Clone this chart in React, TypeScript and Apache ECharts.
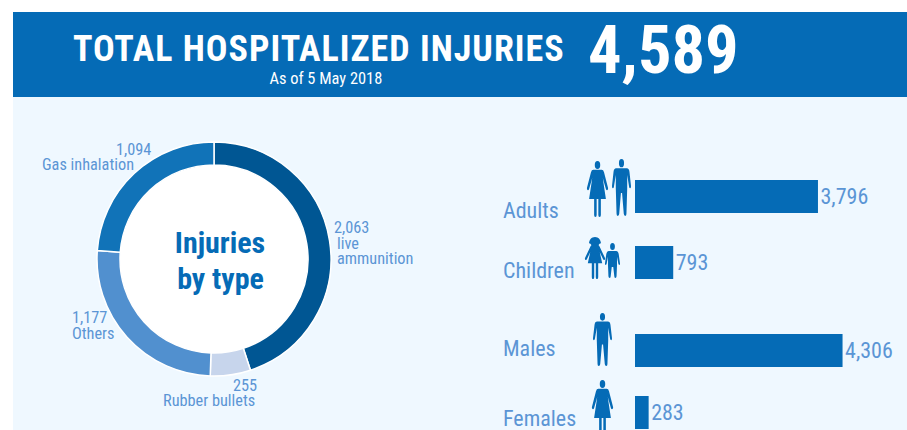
import React, { useEffect, useRef } from "react";
import * as echarts from "echarts";

const injuryTypes = ["live\nammunition", "Rubber bullets", "Others", "Gas inhalation"];
const injuryValues = [2063, 255, 1177, 1094];
const injuryColors = ["#005693", "#C7D5EC", "#5190CF", "#1173B8"];
const groups = ["Adults", "Children", "Males", "Females"];
const groupValues = [3796, 793, 4306, 283];
const headerTitle = "TOTAL HOSPITALIZED INJURIES";
const headerSub = "As of 5 May 2018";
const headerTotal = "4,589";

const barTops = [180, 246, 334, 396];
const labelShift = [14, 8, -2.5, 5.5];
const pieLabelPos: [number, number][] = [[334, 243], [163, 393], [72, 325.5], [42, 157]];
const FONT = '"Roboto Condensed", "Liberation Sans Narrow", Roboto, sans-serif';
const BLUE = "#056BB6";
const LABEL = "#5B95D5";
const PL = { fontSize: 16.3, lineHeight: 15.5, fontFamily: FONT, color: LABEL };

const manD = "M50 0a13.5 13.5 0 1 1 0 27a13.5 13.5 0 1 1 0-27zM22 30H78Q90 30 92 42L100 88Q101 94 96 95Q91 95 90 90L80 52V96L76 178Q76 185 70 185Q63 185 62 178L53 110H47L38 178Q37 185 30 185Q24 185 24 178L20 96V52L10 90Q9 95 4 95Q-1 94 0 88L8 42Q10 30 22 30z";
const womanD = "M50 0a13 13 0 1 1 0 26a13 13 0 1 1 0-26zM30 29H70Q78 29 81 37L100 88Q102 94 97 96Q92 97 90 92L75 56L90 125H66V178Q66 185 60 185Q54 185 54 178V125H46V178Q46 185 40 185Q34 185 34 178V125H10L25 56L10 92Q8 97 3 96Q-2 94 0 88L19 37Q22 29 30 29z";
const girlD = "M50 0C68 0 78 12 80 26C72 28 70 30 68 34Q72 36 74 42L100 88Q102 94 97 96Q92 97 90 92L74 64L86 110H66V168Q66 176 60 176Q54 176 54 168V110H46V168Q46 176 40 176Q34 176 34 168V110H14L26 64L10 92Q8 97 3 96Q-2 94 0 88L26 42Q28 36 32 34C30 30 28 28 20 26C22 12 32 0 50 0z";
const boyD = "M50 0a16 16 0 1 1 0 32a16 16 0 1 1 0-32zM24 36H76Q88 36 91 48L100 92Q101 98 96 99Q91 100 89 94L80 62V100L77 150Q76 158 69 158Q62 158 62 150L55 108H45L38 150Q38 158 31 158Q24 158 23 150L20 100V62L11 94Q9 100 4 99Q-1 98 0 92L9 48Q12 36 24 36z";

echarts.graphic.registerShape("iconMan", echarts.graphic.extendPath(manD, {}) as any);
echarts.graphic.registerShape("iconWoman", echarts.graphic.extendPath(womanD, {}) as any);
echarts.graphic.registerShape("iconGirl", echarts.graphic.extendPath(girlD, {}) as any);
echarts.graphic.registerShape("iconBoy", echarts.graphic.extendPath(boyD, {}) as any);

const icon = (type: string, x: number, y: number, w: number, h: number, natH: number) => ({
  type, x, y, scaleX: w / 100, scaleY: h / natH, z: 5, style: { fill: BLUE },
});
const fmt = (v: number) => v.toLocaleString("en-US");

export default function App() {
  const ref = useRef<HTMLDivElement>(null);
  useEffect(() => {
    document.body.style.margin = "0";
    const style = document.createElement("style");
    style.textContent = 'svg text{font-stretch:75% !important;} svg text[style*="36px"]{letter-spacing:1px;}';
    document.head.appendChild(style);
    const chart = echarts.init(ref.current!, undefined, { renderer: "svg" });
    chart.setOption({
      animation: false,
      backgroundColor: "#fff",
      grid: groups.map((_, i) => ({ left: 635, top: barTops[i], width: 241, height: 33 })),
      xAxis: groups.map((_, i) => ({ type: "value", gridIndex: i, min: 0, max: 5000, show: false })),
      yAxis: groups.map((g, i) => ({
        type: "category", gridIndex: i, data: [g],
        axisLine: { show: false }, axisTick: { show: false },
        axisLabel: {
          align: "left", margin: 132, color: LABEL, fontSize: 22, fontFamily: FONT,
          verticalAlign: labelShift[i] >= 0 ? "top" : "bottom",
          lineHeight: Math.abs(labelShift[i]) * 2,
        },
      })),
      series: [
        {
          type: "pie", center: [214, 259], radius: [94, 117], startAngle: 90, clockwise: true,
          itemStyle: { borderColor: "#fff", borderWidth: 1.5 },
          data: injuryTypes.map((n, i) => ({ name: n, value: injuryValues[i], itemStyle: { color: injuryColors[i] } })),
          label: {
            show: true, position: "outside", color: LABEL, fontSize: 16.3, lineHeight: 15.5, fontFamily: FONT, align: "left", overflow: "none",
            formatter: (p: any) => {
              const lines = String(p.name).split("\n");
              const v = `{v${p.dataIndex}|${fmt(p.value)}}`;
              return [v, ...lines.map((l) => `{n${p.dataIndex}|${l}}`)].join("\n");
            },
            rich: {
              v0: PL,
              n0: { ...PL, padding: [0, 0, 0, 3] },
              v1: { ...PL, padding: [0, 0, 0, 70] },
              n1: PL,
              v2: PL,
              n2: PL,
              v3: { ...PL, padding: [0, 0, 0, 74] },
              n3: PL,
            },
          },
          labelLine: { show: false },
          labelLayout: (p: any) => ({ x: pieLabelPos[p.dataIndex][0], y: pieLabelPos[p.dataIndex][1], align: "left", verticalAlign: "middle" }),
        },
        ...groups.map((g, i) => ({
          type: "bar", xAxisIndex: i, yAxisIndex: i, barWidth: 33, data: [groupValues[i]],
          itemStyle: { color: BLUE },
          label: { show: true, position: "right", distance: 2.5, color: LABEL, fontSize: 22, fontFamily: FONT, formatter: (p: any) => fmt(p.value) },
        })),
      ],
      graphic: [
        { type: "rect", z: 0, shape: { x: 13, y: 12, width: 894, height: 85 }, style: { fill: BLUE } },
        { type: "rect", z: 0, shape: { x: 13, y: 97, width: 894, height: 333 }, style: { fill: "#EFF8FF" } },
        { type: "circle", z: 1, shape: { cx: 214, cy: 259, r: 94 }, style: { fill: "#fff" } },
        { type: "text", z: 5, x: 73, y: 48.5, style: { text: headerTitle, fill: "#fff", font: `bold 36px ${FONT}`, verticalAlign: "middle", align: "left" } },
        { type: "text", z: 5, x: 269.5, y: 78, style: { text: headerSub, fill: "#fff", font: `16.4px ${FONT}`, verticalAlign: "middle", align: "left" } },
        { type: "text", z: 5, x: 588, y: 50, style: { text: headerTotal, fill: "#fff", font: `bold 66.5px ${FONT}`, verticalAlign: "middle", align: "left" } },
        { type: "text", z: 5, x: 220, y: 242.5, style: { text: "Injuries", fill: BLUE, font: `bold 30px ${FONT}`, verticalAlign: "middle", align: "center" } },
        { type: "text", z: 5, x: 220.5, y: 278.5, style: { text: "by type", fill: BLUE, font: `bold 30px ${FONT}`, verticalAlign: "middle", align: "center" } },
        icon("iconWoman", 587, 161, 21, 56, 185),
        icon("iconMan", 612, 159, 19, 57, 185),
        icon("iconGirl", 585, 237, 20, 42, 176),
        icon("iconBoy", 605, 243, 15, 35, 158),
        icon("iconMan", 593, 313, 19, 53, 185),
        icon("iconWoman", 592, 380, 21, 56, 185),
      ],
    });
    return () => {
      chart.dispose();
      style.remove();
    };
  }, []);
  return <div ref={ref} style={{ width: 907, height: 430 }} />;
}
